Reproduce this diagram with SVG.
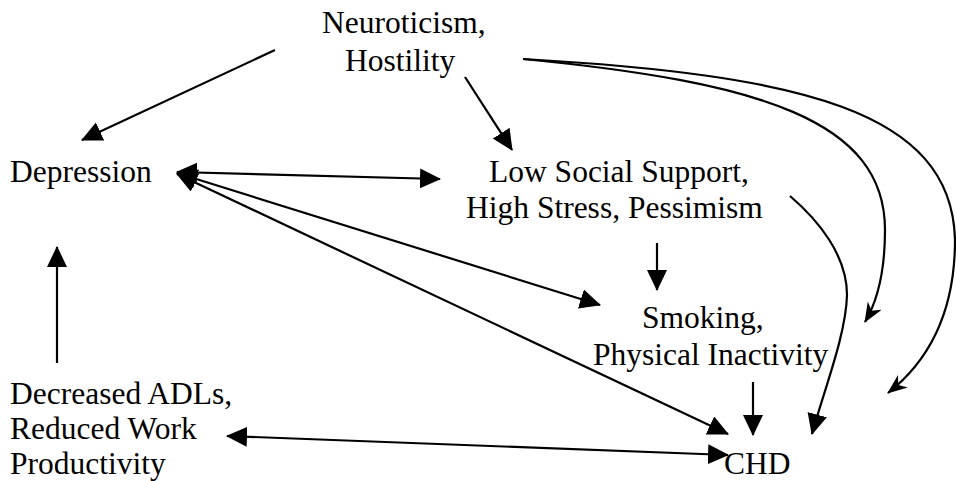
<svg xmlns="http://www.w3.org/2000/svg" width="956" height="481" viewBox="0 0 956 481">
<style>
text{font-family:"Liberation Serif","Times New Roman",serif;font-size:31.5px;fill:#000}
.c{fill:none;stroke:#000;stroke-width:2.2}
</style>
<defs>
<marker id="ah" markerUnits="userSpaceOnUse" markerWidth="23" markerHeight="22" refX="20" refY="10" orient="auto-start-reverse">
<path d="M0,0 L21,10 L0,20 z" fill="#000"/>
</marker>
<marker id="st" markerUnits="userSpaceOnUse" markerWidth="22" markerHeight="18" refX="19" refY="8" orient="auto">
<path d="M0,0 L20,8 L0,16 L6,8 z" fill="#000"/>
</marker>
</defs>
<rect width="956" height="481" fill="#fff"/>
<g id="connectors">
<path class="c" d="M275,50 L82,140" marker-end="url(#ah)"/>
<path class="c" d="M465,77 L512,150" marker-end="url(#ah)"/>
<path class="c" d="M177,172 L440,179" marker-start="url(#ah)" marker-end="url(#ah)"/>
<path class="c" d="M177,173 L600,305" marker-start="url(#ah)" marker-end="url(#ah)"/>
<path class="c" d="M177,174 L728,434" marker-start="url(#ah)" marker-end="url(#ah)"/>
<path class="c" d="M57,363 L57,247" marker-end="url(#ah)"/>
<path class="c" d="M227,436 L728,455" marker-start="url(#ah)" marker-end="url(#ah)"/>
<path class="c" d="M657,243 L657,290" marker-end="url(#ah)"/>
<path class="c" d="M753,382 L753,435" marker-end="url(#ah)"/>
<path class="c" d="M790,196 C818,220 847,255 847,295 C846,335 824,390 812,434" marker-end="url(#ah)"/>
<path class="c" d="M523,59 C760,82 885,120 885,230 C885,270 878,300 865,322" marker-end="url(#st)"/>
<path class="c" d="M523,59 C800,75 952,110 955,240 C955,310 930,360 888,393" marker-end="url(#st)"/>
</g>
<g id="neuroticism"><text x="322" y="33">Neuroticism,</text><text x="345" y="71">Hostility</text></g>
<g id="depression"><text x="10" y="182">Depression</text></g>
<g id="social"><text x="489" y="182">Low Social Support,</text><text x="466" y="218">High Stress, Pessimism</text></g>
<g id="smoking"><text x="642" y="328">Smoking,</text><text x="593" y="365">Physical Inactivity</text></g>
<g id="adl"><text x="10" y="404">Decreased ADLs,</text><text x="10" y="439">Reduced Work</text><text x="10" y="474">Productivity</text></g>
<g id="chd"><text x="724" y="474">CHD</text></g>
</svg>
